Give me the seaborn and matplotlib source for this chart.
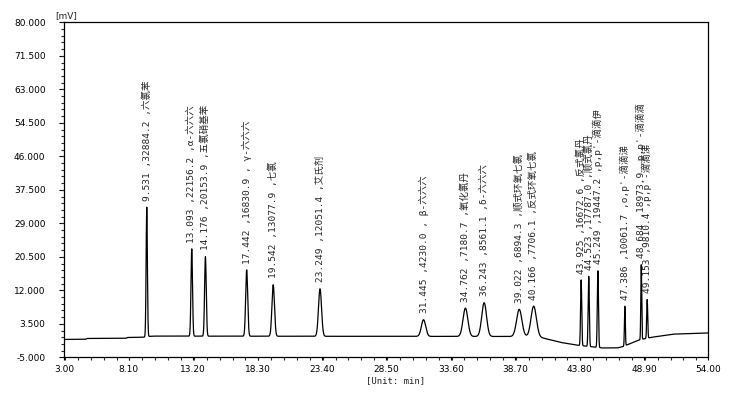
import numpy as np
import pandas as pd
import matplotlib
matplotlib.use('Agg')
import matplotlib.pyplot as plt
import seaborn as sns
from matplotlib.ticker import MultipleLocator, FormatStrFormatter

# peak table: retention time (min), height (uV), compound
rt = [9.531, 13.093, 14.176, 17.442, 19.542, 23.249, 31.445, 34.762, 36.243,
      39.022, 40.166, 43.925, 44.523, 45.249, 47.386, 48.684, 49.153]
height = [32884.2, 22156.2, 20153.9, 16830.9, 13077.9, 12051.4, 4230.0, 7180.7, 8561.1,
          6894.3, 7706.1, 16672.6, 17787.0, 19447.2, 10061.7, 18973.9, 9810.4]
names = ['六氯苯', 'α-六六六', '五氯硝基苯', ' γ-六六六', '七氯', '艾氏剂', ' β-六六六',
         '氧化氯丹', 'δ-六六六', '顺式环氧七氯', '反式环氧七氯', '反式氯丹', '顺式氯丹',
         "p,p'-滴滴伊", "o,p'-滴滴涕", "p,p'-滴滴滴", "p,p'-滴滴涕"]
# peak widths (sigma, min), estimated from the trace
width = [0.05, 0.06, 0.065, 0.08, 0.10, 0.12, 0.17, 0.19, 0.19,
         0.21, 0.21, 0.045, 0.045, 0.045, 0.035, 0.035, 0.04]
# baseline drift (min, mV)
base_t = [3.0, 4.7, 4.8, 7.9, 8.0, 9.2, 9.9, 40.5, 40.8, 42.3, 43.6, 44.5,
          45.6, 46.8, 47.2, 48.4, 48.9, 49.5, 51.2, 54.0]
base_mv = [-0.55, -0.5, -0.3, -0.25, -0.05, 0.0, 0.3, 0.2, -0.1, -1.3, -2.0, -2.3,
           -2.7, -2.7, -2.4, -0.8, -0.4, 0.0, 0.8, 1.1]

# build the trace
t = np.arange(3.0, 54.0001, 0.004)
signal = np.interp(t, base_t, base_mv)
for r, h, w in zip(rt, height, width):
    signal = signal + h / 1000 * np.exp(-0.5 * ((t - r) / w) ** 2)
df = pd.DataFrame({'time': t, 'mV': signal})

sns.set_style('ticks')
plt.rcParams['font.family'] = ['DejaVu Sans', 'Noto Sans CJK SC']

fig = plt.figure(figsize=(7.37, 3.95), dpi=100)
ax = fig.add_axes([0.0872, 0.0962, 0.8740, 0.8481])
sns.lineplot(data=df, x='time', y='mV', ax=ax, color='black', lw=0.9,
             estimator=None, sort=False)

# peak labels
for r, h, n in zip(rt, height, names):
    apex = np.interp(r, base_t, base_mv) + h / 1000
    ax.text(r, apex + 1.6, f'{r:.3f} ,{h:.1f} ,{n}', rotation=90,
            ha='center', va='bottom', fontsize=6.8,
            family=['DejaVu Sans Mono', 'Noto Sans CJK SC'])

ax.set_xlim(3.0, 54.0)
ax.set_ylim(-5.0, 80.0)
ax.xaxis.set_major_locator(MultipleLocator(5.1))
ax.xaxis.set_minor_locator(MultipleLocator(1.02))
ax.yaxis.set_major_locator(MultipleLocator(8.5))
ax.yaxis.set_minor_locator(MultipleLocator(1.7))
ax.xaxis.set_major_formatter(FormatStrFormatter('%.2f'))
ax.yaxis.set_major_formatter(FormatStrFormatter('%.3f'))
ax.set_xticks(np.arange(3.0, 54.01, 5.1))
ax.set_yticks(np.arange(-5.0, 80.01, 8.5))
ax.tick_params(axis='y', which='major', length=3.5, width=0.8, pad=10, labelsize=6.5, colors='black')
ax.tick_params(axis='y', which='minor', length=2, width=0.8)
ax.tick_params(axis='x', which='major', length=2.5, width=0.8, pad=3, labelsize=6.5, colors='black')
ax.tick_params(axis='x', which='minor', length=2, width=0.8)
for s in ax.spines.values():
    s.set_visible(True)
    s.set_color('black')
    s.set_linewidth(0.9)
ax.set_xlabel('')
ax.set_ylabel('')

fig.text(55 / 737, 1 - 20 / 395, '[mV]', fontsize=6.5, ha='left', va='bottom')
fig.text(396 / 737, 1 - 381 / 395, '[Unit: min]', fontsize=6.5, ha='center', va='center',
         family='DejaVu Sans Mono')

fig.savefig('out.png', dpi=100)
